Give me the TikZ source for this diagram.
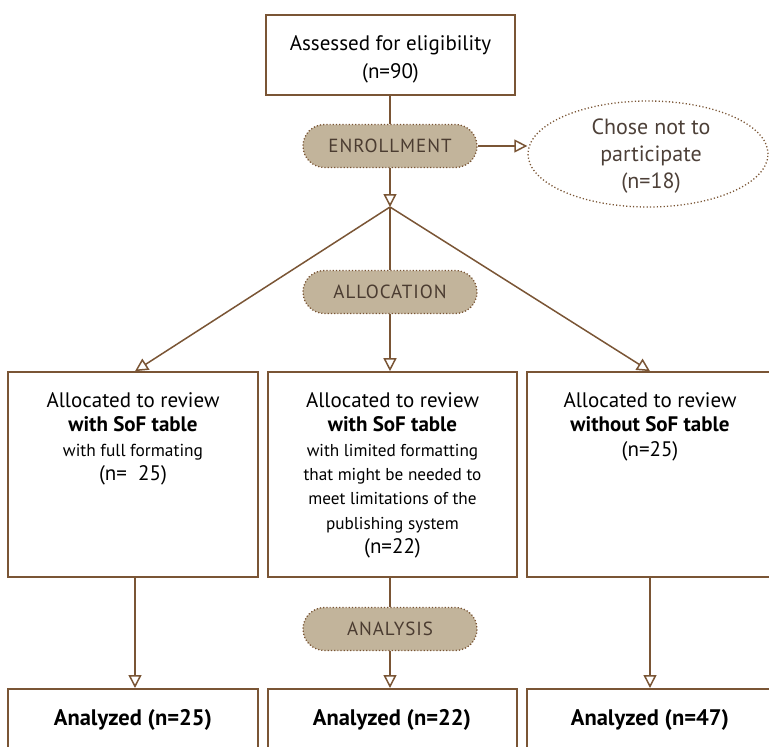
\documentclass[tikz,border=0pt]{standalone}
\usepackage{fontspec}
\setmainfont{PT Sans}
\usetikzlibrary{arrows.meta,shapes.geometric}
\definecolor{brn}{HTML}{7A5535}
\definecolor{pillfill}{HTML}{C2B49B}
\definecolor{pilltxt}{HTML}{4B3C31}
\definecolor{elltxt}{HTML}{4D4038}
\begin{document}
\begin{tikzpicture}[x=1pt,y=-1pt,
  line/.style={draw=brn, line width=1.5pt},
  arr/.style={line, -{Triangle[open,length=13pt,width=13pt,fill=white]}},
  box/.style={draw=brn, line width=1.6pt, rectangle, inner sep=0pt, fill=white},
  pillbox/.style={draw=brn, dash pattern=on 1.2pt off 2pt, line width=1.3pt, fill=pillfill,
    rounded corners=21.5pt, minimum width=174pt, minimum height=43pt, inner sep=0pt,
    text=pilltxt, font=\fontsize{19}{19}\selectfont\addfontfeature{LetterSpace=5}},
  txt/.style={align=center, anchor=north, inner sep=0pt, text=black,
    font=\fontsize{21}{24.3}\selectfont},
  bot/.style={anchor=base, inner sep=0pt, text=black, font=\fontsize{22.5}{24}\selectfont\bfseries}
]
\useasboundingbox (0,0) rectangle (769,747);
\clip (0,0) rectangle (769,747);

% top
\node[box, minimum width=249pt, minimum height=80pt] (top) at (390.5,55) {};
\node[txt, font=\fontsize{21}{27.5}\selectfont] (toptxt) at (390.5,35.5) {Assessed for eligibility\\(n=90)};

% enrollment
\node[pillbox] (enr) at (390,146) {ENROLLMENT};
\node[draw=brn, dash pattern=on 1.2pt off 2.2pt, line width=1.3pt, ellipse,
  minimum width=240pt, minimum height=106pt, inner sep=0pt] (ell) at (648,154) {};
\node[txt, text=elltxt, font=\fontsize{22}{27}\selectfont] (elltxt) at (651,119) {Chose not to\\participate\\(n=18)};

\coordinate (br) at (390,207);

% allocation
\node[pillbox] (alloc) at (390,292) {ALLOCATION};

% boxes
\node[box, minimum width=250pt, minimum height=205pt] (b1) at (133,474.5) {};
\node[box, minimum width=249pt, minimum height=205pt] (b2) at (392.5,474.5) {};
\node[box, minimum width=250pt, minimum height=205pt] (b3) at (652,474.5) {};

\node[txt] (t1) at (133,392.5) {Allocated to review\\\textbf{with SoF table}\\
  {\fontsize{17.4}{24}\selectfont with full formating}\\(n=\ \ 25)};
\node[txt] (t2) at (392.5,392.5) {Allocated to review\\\textbf{with SoF table}\\
  {\fontsize{17.2}{24}\selectfont with limited formatting}\\
  {\fontsize{17.2}{24}\selectfont that might be needed to}\\
  {\fontsize{17.2}{24}\selectfont meet limitations of the}\\
  {\fontsize{17.2}{24}\selectfont publishing system}\\(n=22)};
\node[txt] (t3) at (650,392.5) {Allocated to review\\\textbf{without SoF table}\\(n=25)};

% analysis
\node[pillbox] (ana) at (390,629) {ANALYSIS};

% bottom boxes
\node[box, minimum width=250pt, minimum height=100pt, anchor=north] (c1) at (133,688) {};
\node[box, minimum width=249pt, minimum height=100pt, anchor=north] (c2) at (392.5,688) {};
\node[box, minimum width=250pt, minimum height=100pt, anchor=north] (c3) at (652,688) {};
\node[bot] (d1) at (133,725) {Analyzed (n=25)};
\node[bot] (d2) at (392,725) {Analyzed (n=22)};
\node[bot] (d3) at (650,725) {Analyzed (n=47)};

% connectors
\draw[line] (top.south -| enr) -- (enr.north);
\draw[arr] (enr.east) -- (enr.east -| ell.west);
\draw[arr] (enr.south) -- (br);
\draw[arr] (br) -- (b1.north -| 135,0);
\draw[line] (br) -- (alloc.north);
\draw[arr] (alloc.south) -- (alloc.south |- b2.north);
\draw[arr] (br) -- (b3.north -| 650,0);
\draw[arr] (b1.south -| 135,0) -- (c1.north -| 135,0);
\draw[line] (b2.south -| ana) -- (ana.north);
\draw[arr] (ana.south) -- (ana.south |- c2.north);
\draw[arr] (b3.south -| 650,0) -- (c3.north -| 650,0);
\end{tikzpicture}
\end{document}
